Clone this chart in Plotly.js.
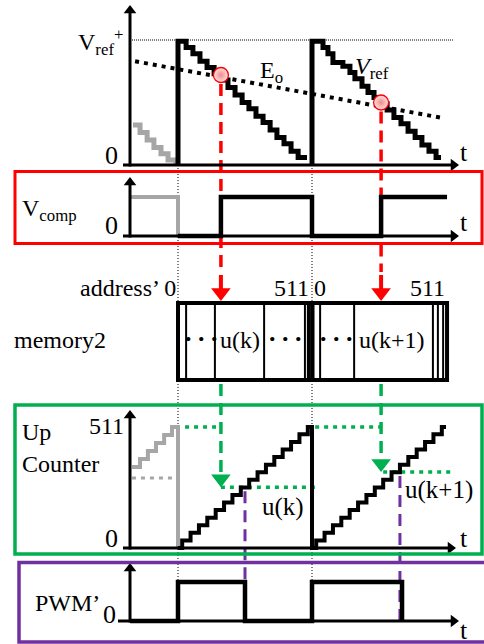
<!DOCTYPE html>
<html><head><meta charset="utf-8">
<script src="https://cdn.plot.ly/plotly-3.0.1.min.js"></script>
<style>html,body{margin:0;padding:0;background:#fff;}</style>
</head><body><div id="chart" style="width:484px;height:644px;"></div>
<script>
// ---------------- DATA (time in counter ticks; one period = 512 ticks) ----------------
const periodStarts = [0, 512];
// V_ref staircase, period k and k+1 (normalised, V_ref+ = 1)
const vrefT  = [0, 0, 31, 57, 84, 111, 138, 164, 191, 218, 245, 271, 298, 325, 352, 378, 405, 432, 459, 493];
const vrefV  = [0, 0.99, 0.94, 0.89, 0.83, 0.78, 0.73, 0.68, 0.62, 0.56, 0.50, 0.45, 0.39, 0.34, 0.28, 0.22, 0.17, 0.11, 0.06, 0.06];
const vref2T = [512, 512, 554, 573, 592, 630, 657, 676, 703, 726, 749, 772, 799, 825, 852, 879, 906, 932, 959, 986, 1005];
const vref2V = [0, 0.99, 0.94, 0.89, 0.82, 0.79, 0.74, 0.69, 0.63, 0.58, 0.54, 0.49, 0.44, 0.38, 0.33, 0.27, 0.22, 0.16, 0.11, 0.06, 0.06];
// previous period (grey)
const grayVrefT = [-172, -145, -118, -92, -65, -38, -8, -8];
const grayVrefV = [0.32, 0.26, 0.20, 0.14, 0.09, 0.04, 0.04, 0];
// E_o reference line
const eoT = [-164, 1001];
const eoV = [0.83, 0.38];
const vrefPlus = 1;
// crossings of V_ref with E_o
const crossT = [164, 776];
const crossV = [0.72, 0.50];
// comparator output
const grayCompT = [-183, 0, 0];
const grayCompV = [1, 1, 0];
const compT = [0, 164, 512, 776, 1028];
const compV = [0, 1, 0, 1, 1];
// memory2 cells (address boundaries)
const memEnd = 1028;
const memEdges = [31, 141, 329, 485, 543, 673, 974, 993, 1013];
const memSplit = [500, 514];
const memLabels = ['u(k)', 'u(k+1)'];
const memLabelT = [237, 818];
const memDotsT = [88, 409, 607];
const addrText = ['511', '0', '511'];
const addrT = [510, 541, 1028];
// up counter
const cntT = [0, 16, 48, 80, 112, 144, 176, 208, 240, 272, 304, 336, 368, 400, 432, 464, 496, 512,
              528, 560, 592, 624, 656, 688, 720, 752, 784, 816, 848, 880, 912, 944, 976, 1008, 1024];
const cntV = [0, 32, 64, 96, 128, 160, 192, 224, 256, 288, 320, 352, 384, 416, 448, 480, 511, 0,
              32, 64, 96, 128, 160, 192, 224, 256, 288, 320, 352, 384, 416, 448, 480, 511, 511];
const grayCntT = [-176, -145, -115, -84, -53, -23, 0, 0];
const grayCntV = [342, 376, 410, 443, 477, 511, 511, 0];
const grayCntRefT = [-176, 0];
const grayCntRefV = [296, 296];
const cntMax = 511;
const uk = [257, 321];
const gDotT0 = [27, 164, 524, 784];
const gDotT1 = [153, 524, 776, 1040];
const gDotV  = [511, 257, 511, 321];
// PWM'
const pwmOffT = [256, 848];
const pwmT = [-183, 0, 256, 512, 856];
const pwmV = [0, 1, 0, 1, 0];

// ---------------- LAYOUT HELPERS ----------------
const W = 484, H = 644;
const X0PX = 178, PXPC = 134 / 512;
const tOf = px => (px - X0PX) / PXPC;
const xp = px => px / W;
const yp = py => 1 - py / H;
const PANEL = {
  A: {ax: 'y',  base: 165, scale: 125},
  B: {ax: 'y2', base: 236, scale: 39},
  M: {ax: 'y3', base: 380, scale: 77},
  C: {ax: 'y4', base: 548, scale: 121 / 511},
  P: {ax: 'y5', base: 621, scale: 39}
};
const rng = p => [(p.base - H) / p.scale, p.base / p.scale];
const vOf = (p, py) => (p.base - py) / p.scale;
const pxOf = (p, v) => p.base - v * p.scale;
const toPaper = (p, v) => 1 - (p.base - v * p.scale) / H;

const BLACK = '#000000', GRAY = '#a6a6a6', RED = '#ff0000', GREEN = '#00b050', PURPLE = '#7030a0';
const FONT = '"Liberation Serif", "Times New Roman", serif';
const A = PANEL.A, B = PANEL.B, M = PANEL.M, C = PANEL.C, P = PANEL.P;

const traces = [];
const shapes = [];
function line(t, v, p, color, width, shape, dash) {
  traces.push({x: t, y: v, yaxis: p.ax, mode: 'lines', hoverinfo: 'skip',
    line: {color: color, width: width, shape: shape || 'linear', dash: dash || 'solid'}});
}
function heads(xs, ys, p, symbol, size, color) {
  traces.push({x: xs, y: ys, yaxis: p.ax, mode: 'markers', hoverinfo: 'skip', cliponaxis: false,
    marker: {symbol: symbol, size: size, color: color, line: {width: 0}}});
}

// ---- axes with arrow heads ----
const AXW = 3, AXHEAD = 11, AXR = AXHEAD / 2;
function axis(p, topPx, startPx, tipPx) {
  const xa = tOf(130);
  shapes.push({type: 'line', xref: 'x', yref: p.ax, x0: xa, x1: xa, y0: vOf(p, p.base + 1.5), y1: vOf(p, topPx + AXR),
    line: {color: BLACK, width: AXW}});
  shapes.push({type: 'line', xref: 'x', yref: p.ax, x0: tOf(startPx), x1: tOf(tipPx - AXR), y0: 0, y1: 0,
    line: {color: BLACK, width: AXW}});
  heads([xa], [vOf(p, topPx + AXR)], p, 'triangle-up', AXHEAD, BLACK);
  heads([tOf(tipPx - AXR)], [0], p, 'triangle-right', AXHEAD, BLACK);
}

// panel A
line([tOf(130), tOf(453)], [vrefPlus, vrefPlus], A, BLACK, 1, 'linear', '1px,1px');
line(eoT, eoV, A, BLACK, 4, 'linear', '4px,5px');
line(grayVrefT, grayVrefV, A, GRAY, 5, 'hv');
line(vrefT, vrefV, A, BLACK, 5, 'hv');
line(vref2T, vref2V, A, BLACK, 5, 'hv');
axis(A, 5, 123, 459);
traces.push({x: crossT, y: crossV, yaxis: 'y', mode: 'markers', hoverinfo: 'skip',
  marker: {size: 15, color: '#ffe4e4', gradient: {type: 'radial', color: '#f08a8a'},
           line: {color: RED, width: 1.3}}});
// panel B
line(grayCompT, grayCompV, B, GRAY, 4, 'hv');
line(compT, compV, B, BLACK, 4.5, 'hv');
axis(B, 177, 123, 459);
// panel C (counter)
line(grayCntRefT, grayCntRefV, C, GRAY, 3, 'linear', '4px,5px');
(function () {
  const xs = [], ys = [];
  for (let i = 0; i < gDotV.length; i++) { xs.push(gDotT0[i], gDotT1[i], null); ys.push(gDotV[i], gDotV[i], null); }
  traces.push({x: xs, y: ys, yaxis: 'y4', mode: 'lines', hoverinfo: 'skip', connectgaps: false,
    line: {color: GREEN, width: 3.5, dash: '4px,5px'}});
})();
line(grayCntT, grayCntV, C, GRAY, 4, 'hv');
line(cntT, cntV, C, BLACK, 4, 'hv');
axis(C, 410, 123, 456);
// panel P
line(pwmT, pwmV, P, BLACK, 4.5, 'hv');
axis(P, 563, 118, 459);

// ---- connectors ----
const HEAD = 17, HR = HEAD / 2;
periodStarts.forEach(t => shapes.push({type: 'line', layer: 'below', xref: 'x', yref: 'paper',
  x0: t, x1: t, y0: toPaper(A, 0), y1: toPaper(P, 1), line: {color: BLACK, width: 1, dash: '1px,2px'}}));
// red: crossing -> memory address
crossT.forEach((t, i) => {
  shapes.push({type: 'line', layer: 'below', xref: 'x', yref: 'paper',
    x0: t, x1: t, y0: toPaper(A, crossV[i]) - 9 / H, y1: yp(272), line: {color: RED, width: 3.5, dash: '12px,7px'}});
  shapes.push({type: 'line', xref: 'x', yref: 'y3', x0: t, x1: t, y0: vOf(M, 275), y1: vOf(M, 301 - HR),
    line: {color: RED, width: 4}});
});
heads(crossT, crossT.map(() => vOf(M, 301 - HR)), M, 'triangle-down', HEAD, RED);
// green: memory -> counter
crossT.forEach((t, i) => shapes.push({type: 'line', layer: 'below', xref: 'x', yref: 'paper',
  x0: t, x1: t, y0: yp(384), y1: toPaper(C, uk[i]) + 8 / H, line: {color: GREEN, width: 3.5, dash: '12px,7px'}}));
heads(crossT, uk.map(u => vOf(C, pxOf(C, u) - HR)), C, 'triangle-down', HEAD, GREEN);
// purple: counter match -> PWM edge
pwmOffT.forEach((t, i) => shapes.push({type: 'line', layer: 'below', xref: 'x', yref: 'paper',
  x0: t, x1: t, y0: toPaper(C, uk[i]) - 4 / H, y1: toPaper(P, 0), line: {color: PURPLE, width: 3, dash: '12px,7px'}}));
// memory block
shapes.push({type: 'rect', xref: 'x', yref: 'y3', x0: 0, x1: memEnd, y0: 0, y1: 1, line: {color: BLACK, width: 4}});
memEdges.forEach(t => shapes.push({type: 'line', xref: 'x', yref: 'y3', x0: t, x1: t, y0: 0, y1: 1, line: {color: BLACK, width: 2}}));
memSplit.forEach(t => shapes.push({type: 'line', xref: 'x', yref: 'y3', x0: t, x1: t, y0: 0, y1: 1, line: {color: BLACK, width: 4}}));
// frames
shapes.push({type: 'rect', xref: 'paper', yref: 'paper', x0: xp(15), x1: xp(482), y0: yp(171.5), y1: yp(243.5), line: {color: RED, width: 3}});
shapes.push({type: 'rect', xref: 'paper', yref: 'paper', x0: xp(15), x1: xp(482), y0: yp(405), y1: yp(554), line: {color: GREEN, width: 3.5}});
shapes.push({type: 'rect', xref: 'paper', yref: 'paper', x0: xp(19), x1: xp(492), y0: yp(562.5), y1: yp(642), line: {color: PURPLE, width: 3.5}});

// ---------------- TEXT ----------------
const ann = [];
function txt(text, px, py, xa, size) {
  ann.push({xref: 'paper', yref: 'paper', x: xp(px), y: yp(py), text: text, showarrow: false,
    xanchor: xa || 'center', yanchor: 'middle', font: {family: FONT, size: size || 24, color: BLACK}});
}
txt('V<sub>ref</sub><sup>+</sup>', 76, 42, 'left');
txt('0', 120, 155, 'right', 26);
txt('t', 464, 152, 'center', 26);
txt('E<sub>o</sub>', 258, 72, 'left');
txt('<i>V</i><sub>ref</sub>', 353, 68, 'left');
txt('V<sub>comp</sub>', 20, 210, 'left');
txt('0', 120, 226, 'right', 26);
txt('t', 464, 222, 'center', 26);
txt('address’ 0', 178, 288, 'right');
addrText.forEach((s, i) => txt(s, X0PX + addrT[i] * PXPC, 288, i === 1 ? 'center' : 'right'));
txt('memory2', 12, 340, 'left');
memLabels.forEach((s, i) => txt(s, X0PX + memLabelT[i] * PXPC, 340, 'center'));
memDotsT.forEach(t => txt('<b>. . .</b>', X0PX + t * PXPC, 333, 'center', 26));
txt('Up', 20, 432, 'left');
txt('Counter', 20, 464, 'left');
txt(String(cntMax), 126, 426, 'right');
txt('0', 120, 538, 'right', 26);
txt('t', 464, 538, 'center', 26);
txt('u(k)', 283, 507, 'center', 25);
txt('u(k+1)', 439, 490, 'center', 25);
txt('PWM’', 33, 603, 'left');
txt('0', 118, 614, 'right', 26);
txt('t', 464, 630, 'center', 26);

const layout = {
  width: W, height: H, margin: {l: 0, r: 0, t: 0, b: 0},
  paper_bgcolor: '#ffffff', plot_bgcolor: 'rgba(0,0,0,0)', showlegend: false,
  font: {family: FONT},
  xaxis: {range: [tOf(0), tOf(W)], visible: false, fixedrange: true},
  yaxis:  {range: rng(A), visible: false, fixedrange: true},
  yaxis2: {range: rng(B), visible: false, overlaying: 'y', fixedrange: true},
  yaxis3: {range: rng(M), visible: false, overlaying: 'y', fixedrange: true},
  yaxis4: {range: rng(C), visible: false, overlaying: 'y', fixedrange: true},
  yaxis5: {range: rng(P), visible: false, overlaying: 'y', fixedrange: true},
  shapes: shapes, annotations: ann
};
Plotly.newPlot('chart', traces, layout, {displayModeBar: false, staticPlot: true});
</script></body></html>
